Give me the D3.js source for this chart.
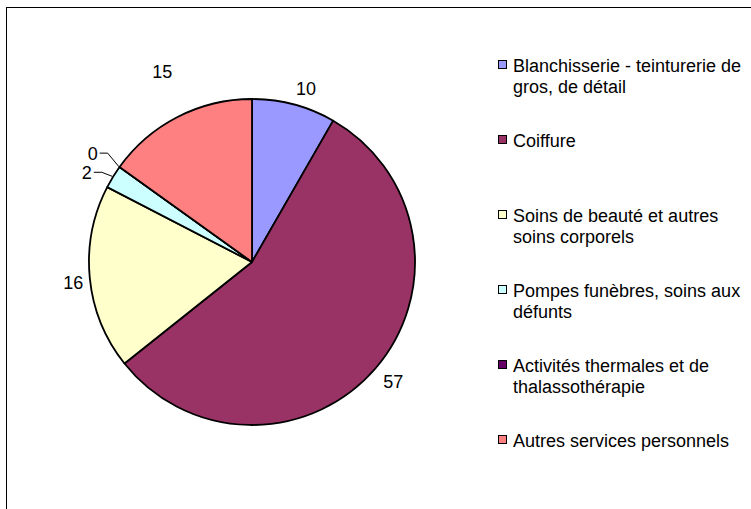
<!DOCTYPE html>
<html>
<head>
<meta charset="utf-8">
<script src="https://cdn.jsdelivr.net/npm/d3@7"></script>
<style>
  body { margin: 0; background: #fff; }
  text { font-family: "Liberation Sans", Arial, sans-serif; }
</style>
</head>
<body>
<div id="chart"></div>
<script>
// categories (legend order = slice order)
const categories = [
    ["Blanchisserie - teinturerie de", "gros, de détail"],
    ["Coiffure"],
    ["Soins de beauté et autres", "soins corporels"],
    ["Pompes funèbres, soins aux", "défunts"],
    ["Activités thermales et de", "thalassothérapie"],
    ["Autres services personnels"]
];
// slice shares as drawn
const shares = [8.3, 56.0, 18.3, 2.3, 0, 15.1];
// data labels as printed
const labelValues = ["10", "57", "16", "2", "0", "15"];
const colors = ["#9999FF", "#993366", "#FFFFCC", "#CCFFFF", "#660066", "#FF8080"];

// label placement tweaks: angle shift (deg), extra radius, leader line
const labelLayout = [
    { da: 2.3, dr: 19, leader: false },
    { da: -0.5, dr: 22, leader: false },
    { da: -1, dr: 17, leader: false },
    { da: -3, dr: 25, leader: true },
    { da: -1.3, dr: 30, leader: true },
    { da: 2, dr: 48, leader: false }
];

const W = 751, H = 509;
const cx = 252, cy = 262, r = 163;

const svg = d3.select("#chart").append("svg")
    .attr("width", W)
    .attr("height", H);

// outer frame
svg.append("rect")
    .attr("x", 6.5).attr("y", 7.5)
    .attr("width", 800).attr("height", 600)
    .attr("fill", "none")
    .attr("stroke", "#000")
    .attr("stroke-width", 1);

const data = shares.map((v, i) => ({ v: v, i: i }));

const pie = d3.pie().value(d => d.v).sort(null);
const arcs = pie(data);

const arc = d3.arc().innerRadius(0).outerRadius(r);

const g = svg.append("g")
    .attr("transform", "translate(" + cx + "," + cy + ")");

g.selectAll("path.slice")
    .data(arcs)
    .enter().append("path")
    .attr("class", "slice")
    .attr("d", arc)
    .attr("fill", d => colors[d.data.i])
    .attr("stroke", "#000")
    .attr("stroke-width", 1.8)
    .attr("stroke-linejoin", "round");

// data labels
arcs.forEach(d => {
    const lay = labelLayout[d.data.i];
    const mid = (d.startAngle + d.endAngle) / 2;
    const a = mid + lay.da * Math.PI / 180;
    const rr = r + lay.dr;
    const lx = Math.sin(a) * rr, ly = -Math.cos(a) * rr;

    const t = g.append("text")
        .attr("x", lx)
        .attr("y", ly)
        .attr("dy", "0.36em")
        .attr("text-anchor", "middle")
        .style("font-size", "18px")
        .attr("fill", "#000")
        .text(labelValues[d.data.i]);

    if (lay.leader) {
        const bb = t.node().getBBox();
        const x0 = bb.x + bb.width + 2;
        const x1 = x0 + 8;
        const ex = Math.sin(mid) * (r + 1), ey = -Math.cos(mid) * (r + 1);
        g.append("path")
            .attr("d", "M" + x0 + "," + ly + "L" + x1 + "," + ly + "L" + ex + "," + ey)
            .attr("fill", "none")
            .attr("stroke", "#000")
            .attr("stroke-width", 1);
    }
});

// legend
const legend = svg.append("g");
const legX = 498, legY = 72, step = 75, lineH = 21;

categories.forEach((lines, i) => {
    const y = legY + i * step;
    legend.append("rect")
        .attr("x", legX + 0.5).attr("y", y - 11.5)
        .attr("width", 8).attr("height", 8)
        .attr("fill", colors[i])
        .attr("stroke", "#000")
        .attr("stroke-width", 1);
    const t = legend.append("text")
        .attr("x", legX + 15)
        .attr("y", y)
        .style("font-size", "18px")
        .attr("fill", "#000");
    lines.forEach((s, j) => {
        t.append("tspan")
            .attr("x", legX + 15)
            .attr("y", y + j * lineH)
            .text(s);
    });
});
</script>
</body>
</html>
